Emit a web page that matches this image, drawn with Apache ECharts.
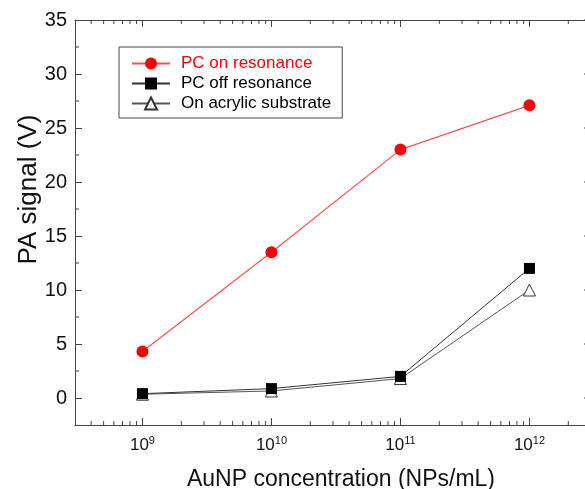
<!DOCTYPE html>
<html>
<head>
<meta charset="utf-8">
<script src="https://cdn.jsdelivr.net/npm/echarts@6/dist/echarts.min.js"></script>
<style>
  html, body { margin: 0; padding: 0; background: #fff; overflow: hidden; }
  #main { width: 585px; height: 489px; }
</style>
</head>
<body>
<div id="main"></div>
<script>
// concentrations (NPs/mL) and PA signal (V)
var concentration = [1e9, 1e10, 1e11, 1e12];
var onResonance = [4.3, 13.5, 23.0, 27.1];
var offResonance = [0.4, 0.87, 2.0, 12.0];
var acrylic = [0.35, 0.65, 1.8, 10.0];

var xMin = Math.log10(3e8), xMax = Math.log10(3e12);
var yMin = -2.5, yMax = 35;
var font = 'Liberation Sans, Arial, sans-serif';
var frame = '#444';

function pts(vals) {
    return concentration.map(function (c, i) { return [Math.log10(c), vals[i]]; });
}

// minor tick positions (log decades on x); right-side y ticks every 2.5
var xMinor = [];
for (var n = 8; n <= 12; n++) {
    for (var k = 2; k <= 9; k++) {
        var v = Math.log10(k * Math.pow(10, n));
        if (v > xMin && v < xMax) xMinor.push([v, 0]);
    }
}
var yTicks = [];
for (var t = 0; t <= yMax; t += 2.5) yTicks.push([0, t]);

var minorLen = 4;

option = {
    animation: false,
    grid: { left: 75, top: 20, width: 516, height: 405, outerBoundsMode: 'none', containLabel: false },
    legend: {
        orient: 'vertical',
        left: 119,
        top: 47,
        padding: [8, 11, 6, 12],
        borderColor: frame,
        borderWidth: 1,
        itemWidth: 38,
        itemHeight: 15,
        itemGap: 3,
        textStyle: { fontSize: 17, fontFamily: font, color: '#000', padding: [0, 0, 0, 6] },
        data: [
            { name: 'PC on resonance', textStyle: { color: '#ff0000' } },
            { name: 'PC off resonance' },
            { name: 'On acrylic substrate' }
        ]
    },
    xAxis: [{
        type: 'value',
        min: xMin,
        max: xMax,
        splitNumber: 4,
        position: 'bottom',
        name: 'AuNP concentration (NPs/mL)',
        nameLocation: 'middle',
        nameGap: 43,
        nameTextStyle: { fontSize: 23, fontFamily: font, color: '#111', padding: [0, 0, 0, 16] },
        axisLine: { onZero: false, lineStyle: { color: frame, width: 1 } },
        axisTick: { inside: true, length: 7, lineStyle: { color: frame } },
        splitLine: { show: false },
        axisLabel: {
            margin: 10,
            formatter: function (v) {
                var r = Math.round(v);
                if (Math.abs(v - r) > 1e-6) return '';
                return '{b|10}{s|' + r + '}';
            },
            rich: {
                b: { fontSize: 17, fontFamily: font, color: '#111' },
                s: { fontSize: 11, fontFamily: font, color: '#111', padding: [0, 0, 9, 0] }
            }
        }
    }, {
        type: 'value',
        min: xMin,
        max: xMax,
        splitNumber: 4,
        position: 'top',
        axisLine: { onZero: false, lineStyle: { color: frame, width: 1 } },
        axisTick: { inside: true, length: 7, lineStyle: { color: frame } },
        axisLabel: { show: false },
        splitLine: { show: false }
    }],
    yAxis: {
        type: 'value',
        min: yMin,
        max: yMax,
        splitNumber: 8,
        position: 'left',
        name: 'PA signal (V)',
        nameLocation: 'middle',
        nameGap: 33,
        nameMoveOverlap: false,
        nameTextStyle: { fontSize: 26, fontFamily: font, color: '#111', padding: [0, 0, 0, 66] },
        axisLine: { show: true, onZero: false, lineStyle: { color: frame, width: 1 } },
        axisTick: { show: true, inside: true, length: 7, lineStyle: { color: frame } },
        splitLine: { show: false },
        axisLabel: {
            margin: 8,
            fontSize: 20,
            fontFamily: font,
            color: '#111',
            formatter: function (v) { return v < 0 ? '' : String(v); }
        }
    },
    series: [
        {
            name: 'PC on resonance',
            type: 'line',
            data: pts(onResonance),
            symbol: 'circle',
            symbolSize: 12,
            itemStyle: { color: '#ff0000' },
            lineStyle: { color: '#ff5050', width: 1.2 },
            z: 5
        },
        {
            name: 'PC off resonance',
            type: 'line',
            data: pts(offResonance),
            symbol: 'rect',
            symbolSize: 11,
            itemStyle: { color: '#000' },
            lineStyle: { color: '#333', width: 1 },
            z: 4
        },
        {
            name: 'On acrylic substrate',
            type: 'line',
            data: pts(acrylic),
            symbol: 'triangle',
            symbolSize: 12,
            itemStyle: { color: '#fff', borderColor: '#333', borderWidth: 1 },
            lineStyle: { color: '#555', width: 1 },
            z: 3
        },
        {
            type: 'custom',
            silent: true,
            data: xMinor,
            renderItem: function (params, api) {
                var x = api.value(0);
                var b = api.coord([x, yMin]);
                var t = api.coord([x, yMax]);
                var s = { stroke: frame, lineWidth: 1 };
                return {
                    type: 'group',
                    children: [
                        { type: 'line', shape: { x1: b[0], y1: b[1], x2: b[0], y2: b[1] - minorLen }, style: s },
                        { type: 'line', shape: { x1: t[0], y1: t[1], x2: t[0], y2: t[1] + minorLen }, style: s }
                    ]
                };
            }
        },
        {
            type: 'custom',
            silent: true,
            data: yTicks,
            renderItem: function (params, api) {
                var y = api.value(1);
                var major = Math.abs(y % 5) < 1e-6;
                var len = major ? 7 : minorLen;
                var l = api.coord([xMin, y]);
                var r = api.coord([xMax, y]);
                var s = { stroke: frame, lineWidth: 1 };
                var kids = [
                    { type: 'line', shape: { x1: r[0], y1: r[1], x2: r[0] - len, y2: r[1] }, style: s }
                ];
                if (!major) {
                    kids.push({ type: 'line', shape: { x1: l[0], y1: l[1], x2: l[0] + len, y2: l[1] }, style: s });
                }
                return { type: 'group', children: kids };
            }
        }
    ]
};

var myChart = echarts.init(document.getElementById('main'));
myChart.setOption(option);
</script>
</body>
</html>
